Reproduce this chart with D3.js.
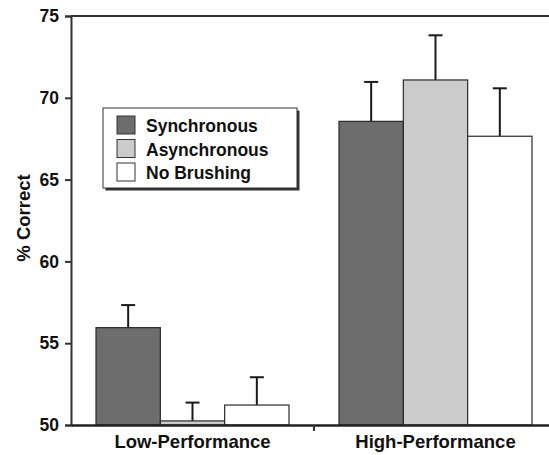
<!DOCTYPE html>
<html>
<head>
<meta charset="utf-8">
<script src="https://cdn.jsdelivr.net/npm/d3@7"></script>
<style>
  body { margin: 0; background: #fff; }
  text { font-family: Arial, "Liberation Sans", sans-serif; font-weight: bold; fill: #111; }
</style>
</head>
<body>
<div id="chart"></div>
<script>
// data
var groups = ["Low-Performance", "High-Performance"];
var conditions = ["Synchronous", "Asynchronous", "No Brushing"];
var means = [
  [55.95, 50.25, 51.22],
  [68.56, 71.09, 67.65]
];
var errors = [
  [1.38, 1.12, 1.70],
  [2.41, 2.73, 2.93]
];
var yTicks = [50, 55, 60, 65, 70, 75];

var colors = d3.scaleOrdinal().domain(conditions).range(["#6d6d6d", "#cbcbcb", "#ffffff"]);

var width = 549, height = 455;
var svg = d3.select("#chart").append("svg")
  .attr("width", width)
  .attr("height", height);

var x0 = d3.scaleBand().domain(groups).range([71, 557]).paddingInner(0).paddingOuter(0);
var x1 = d3.scaleBand().domain(conditions).range([25, 218]);
var y = d3.scaleLinear().domain([50, 75]).range([425, 16]);

// bars
var g = svg.selectAll("g.group")
  .data(groups)
  .enter().append("g")
  .attr("class", "group")
  .attr("transform", function(d) { return "translate(" + x0(d) + ",0)"; });

g.each(function(grp, gi) {
  var sel = d3.select(this);
  var rows = conditions.map(function(c, ci) {
    return { cond: c, v: means[gi][ci], e: errors[gi][ci] };
  });

  sel.selectAll("line.err")
    .data(rows)
    .enter().append("line")
    .attr("class", "err")
    .attr("x1", function(d) { return x1(d.cond) + x1.bandwidth() / 2; })
    .attr("x2", function(d) { return x1(d.cond) + x1.bandwidth() / 2; })
    .attr("y1", function(d) { return y(d.v); })
    .attr("y2", function(d) { return y(d.v + d.e); })
    .attr("stroke", "#1a1a1a")
    .attr("stroke-width", 2);

  sel.selectAll("line.cap")
    .data(rows)
    .enter().append("line")
    .attr("class", "cap")
    .attr("x1", function(d) { return x1(d.cond) + x1.bandwidth() / 2 - 7; })
    .attr("x2", function(d) { return x1(d.cond) + x1.bandwidth() / 2 + 7; })
    .attr("y1", function(d) { return y(d.v + d.e); })
    .attr("y2", function(d) { return y(d.v + d.e); })
    .attr("stroke", "#1a1a1a")
    .attr("stroke-width", 2);

  sel.selectAll("rect")
    .data(rows)
    .enter().append("rect")
    .attr("x", function(d) { return x1(d.cond); })
    .attr("y", function(d) { return y(d.v); })
    .attr("width", x1.bandwidth())
    .attr("height", function(d) { return y(50) - y(d.v); })
    .attr("fill", function(d) { return colors(d.cond); })
    .attr("stroke", "#2a2a2a")
    .attr("stroke-width", 1.2);
});

// frame: top line and left axis
svg.append("line")
  .attr("x1", 71).attr("x2", width)
  .attr("y1", y(75)).attr("y2", y(75))
  .attr("stroke", "#333").attr("stroke-width", 2);

var yAxis = d3.axisLeft(y).tickValues(yTicks).tickSize(6).tickPadding(6);
var ya = svg.append("g")
  .attr("transform", "translate(71,0)")
  .call(yAxis);
ya.select(".domain").attr("stroke", "#333").attr("stroke-width", 2);
ya.selectAll(".tick line").attr("stroke", "#333").attr("stroke-width", 2);
ya.selectAll(".tick text").style("font-size", "17.5px").attr("fill", "#111");

// x axis
var xAxis = d3.axisBottom(x0).tickSize(0).tickPadding(10);
var xa = svg.append("g")
  .attr("transform", "translate(0," + y(50) + ")")
  .call(xAxis);
xa.select(".domain").attr("stroke", "#222").attr("stroke-width", 2.5);
xa.selectAll(".tick text")
  .style("font-size", "18.5px").attr("fill", "#111")
  .attr("transform", function(d) { return "translate(" + (-x0.bandwidth() / 2 + 121.5) + ",0)"; });

// divider tick between groups
xa.append("line")
  .attr("x1", x0(groups[1])).attr("x2", x0(groups[1]))
  .attr("y1", 0).attr("y2", 6)
  .attr("stroke", "#333").attr("stroke-width", 2);

// y title
svg.append("text")
  .attr("transform", "translate(30,218) rotate(-90)")
  .attr("text-anchor", "middle")
  .style("font-size", "18.5px")
  .text("% Correct");

// legend
var lg = svg.append("g").attr("transform", "translate(103,108)");
lg.append("rect")
  .attr("x", 2.5).attr("y", 2.5).attr("width", 194).attr("height", 80)
  .attr("fill", "#333");
lg.append("rect")
  .attr("x", 0).attr("y", 0).attr("width", 194).attr("height", 80)
  .attr("fill", "#fff").attr("stroke", "#333").attr("stroke-width", 1);

var items = lg.selectAll("g.item")
  .data(conditions)
  .enter().append("g")
  .attr("class", "item")
  .attr("transform", function(d, i) { return "translate(14," + (8 + i * 23.5) + ")"; });
items.append("rect")
  .attr("width", 18).attr("height", 18)
  .attr("fill", function(d) { return colors(d); })
  .attr("stroke", "#333").attr("stroke-width", 1);
items.append("text")
  .attr("x", 29).attr("y", 16)
  .style("font-size", "17.5px")
  .text(function(d) { return d; });
</script>
</body>
</html>
